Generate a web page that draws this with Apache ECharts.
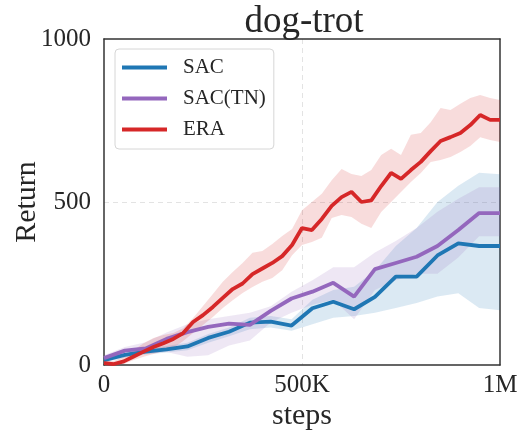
<!DOCTYPE html>
<html>
<head>
<meta charset="utf-8">
<script src="https://cdn.jsdelivr.net/npm/echarts@6/dist/echarts.min.js"></script>
<style>
  html, body { margin: 0; padding: 0; background: #fff; }
  #chart { width: 520px; height: 432px; }
</style>
</head>
<body>
<div id="chart"></div>
<script>
// Training steps at which each method was evaluated
const eraSteps = [0, 25000, 50000, 75000, 100000, 125000, 150000, 175000, 200000, 225000,
  250000, 275000, 300000, 325000, 350000, 375000, 400000, 425000, 450000, 475000,
  500000, 525000, 550000, 575000, 600000, 625000, 650000, 675000, 700000, 725000,
  750000, 775000, 800000, 825000, 850000, 875000, 900000, 925000, 950000, 975000, 1000000];
const sacSteps = [0, 52632, 105263, 157895, 210526, 263158, 315789, 368421, 421053, 473684,
  526316, 578947, 631579, 684211, 736842, 789474, 842105, 894737, 947368, 1000000];

// Mean returns
const eraMean = [6, 3, 11, 26, 41, 55, 67, 80, 98, 132,
  153, 178, 206, 233, 250, 279, 296, 313, 334, 368,
  420, 414, 448, 488, 515, 531, 500, 505, 549, 589,
  571, 598, 623, 656, 687, 699, 712, 736, 767, 752, 752];
const sacMean = [15, 31, 41, 48, 57, 83, 102, 130, 133, 121,
  174, 194, 171, 209, 271, 271, 336, 373, 365, 365];
const tnMean = [21, 44, 51, 80, 101, 117, 127, 123, 166, 204,
  225, 252, 210, 294, 313, 332, 365, 414, 466, 466];

// Shaded spread around each mean (lower / upper bounds)
const eraLow = [0, 0, 3, 15, 25, 34, 43, 52, 74, 98,
  123, 147, 175, 199, 221, 239, 255, 267, 291, 337,
  368, 377, 390, 451, 460, 454, 433, 420, 469, 500,
  531, 561, 589, 623, 629, 638, 653, 672, 699, 690, 684];
const eraHigh = [12, 12, 25, 46, 67, 83, 92, 98, 113, 144,
  181, 218, 255, 285, 313, 344, 350, 371, 396, 417,
  475, 500, 525, 567, 601, 586, 580, 598, 644, 663,
  644, 706, 712, 745, 788, 782, 801, 819, 828, 819, 813];
const sacLow = [8, 22, 32, 38, 45, 68, 88, 110, 115, 105,
  125, 145, 150, 160, 175, 190, 210, 220, 175, 168];
const sacHigh = [20, 38, 50, 58, 68, 95, 115, 145, 150, 140,
  200, 230, 240, 290, 365, 420, 500, 550, 590, 585];
const tnLow = [12, 35, 35, 40, 25, 30, 60, 75, 130, 160,
  185, 200, 140, 230, 260, 280, 280, 330, 395, 395];
const tnHigh = [30, 55, 70, 100, 125, 140, 150, 160, 180, 225,
  260, 300, 300, 345, 380, 420, 470, 510, 545, 545];

// Axis tick labels
const xTickLabels = ['0', '500K', '1M'];
const yTicks = [0, 500, 1000];

const FONT = 'Liberation Serif';
const TEXT = '#262626';
const FRAME = { show: true, onZero: false, lineStyle: { color: '#333', width: 1.5 } };
const GRIDLINE = {
  show: true, showMinLine: false, showMaxLine: false,
  lineStyle: { color: '#e3e3e3', type: [5, 4], width: 1 }
};

function pairs(xs, ys) { return xs.map((x, i) => [x, ys[i]]); }

// One filled polygon per method: upper edge left→right, lower edge right→left
function bandSeries(xs, lo, hi, rgba) {
  return {
    type: 'custom', silent: true, z: 1,
    data: xs.map((x, i) => [x, lo[i], hi[i]]),
    encode: { x: 0, y: [1, 2] },
    renderItem: function (params, api) {
      if (params.dataIndex !== 0) return null;
      const pts = [];
      for (let i = 0; i < xs.length; i++) pts.push(api.coord([xs[i], hi[i]]));
      for (let i = xs.length - 1; i >= 0; i--) pts.push(api.coord([xs[i], lo[i]]));
      return {
        type: 'polygon',
        shape: { points: pts },
        style: { fill: rgba, stroke: null },
        clipPath: {
          type: 'rect',
          shape: {
            x: params.coordSys.x, y: params.coordSys.y,
            width: params.coordSys.width, height: params.coordSys.height
          }
        }
      };
    }
  };
}

function meanSeries(name, xs, ys, color) {
  return {
    name: name, type: 'line', data: pairs(xs, ys), symbol: 'none',
    lineStyle: { color: color, width: 3.8 }, itemStyle: { color: color }, z: 5
  };
}

const chart = echarts.init(document.getElementById('chart'), null, { renderer: 'canvas' });

chart.setOption({
  animation: false,
  backgroundColor: '#fff',
  title: {
    text: 'dog-trot', left: 299, top: -1, textAlign: 'center',
    textStyle: { fontFamily: FONT, fontSize: 37, fontWeight: 'normal', color: TEXT }
  },
  grid: { left: 104, right: 20, top: 39, bottom: 67, outerBoundsMode: 'none' },
  legend: {
    data: ['SAC', 'SAC(TN)', 'ERA'],
    orient: 'vertical', left: 115, top: 49,
    icon: 'rect', itemWidth: 45, itemHeight: 4, itemGap: 10,
    padding: [8, 8, 9, 7],
    backgroundColor: '#fff', borderColor: '#d6d6d6', borderWidth: 1, borderRadius: 4,
    textStyle: { fontFamily: FONT, fontSize: 21, color: TEXT, padding: [0, 0, 0, 11] }
  },
  xAxis: [
    {
      type: 'value', min: 0, max: 1000000, interval: 500000,
      name: 'steps', nameLocation: 'middle', nameGap: 36, nameMoveOverlap: false,
      nameTextStyle: { fontFamily: FONT, fontSize: 30, color: TEXT },
      axisLine: FRAME, axisTick: { show: false },
      axisLabel: {
        fontFamily: FONT, fontSize: 25, color: TEXT, margin: 12, lineHeight: 16,
        formatter: v => xTickLabels[Math.round(v / 500000)]
      },
      splitLine: GRIDLINE
    },
    {
      type: 'value', position: 'top', min: 0, max: 1000000,
      axisLine: FRAME, axisTick: { show: false }, axisLabel: { show: false },
      splitLine: { show: false }
    }
  ],
  yAxis: [
    {
      type: 'value', min: 0, max: 1000, interval: 500,
      name: 'Return', nameLocation: 'middle', nameGap: 62, nameMoveOverlap: false,
      nameTextStyle: { fontFamily: FONT, fontSize: 30, color: TEXT },
      axisLine: FRAME, axisTick: { show: false },
      axisLabel: {
        fontFamily: FONT, fontSize: 25, color: TEXT, margin: 13, lineHeight: 16,
        formatter: v => String(yTicks[Math.round(v / 500)])
      },
      splitLine: GRIDLINE
    },
    {
      type: 'value', position: 'right', min: 0, max: 1000,
      axisLine: FRAME, axisTick: { show: false }, axisLabel: { show: false },
      splitLine: { show: false }
    }
  ],
  series: [
    bandSeries(sacSteps, sacLow, sacHigh, 'rgba(31,119,180,0.16)'),
    bandSeries(sacSteps, tnLow, tnHigh, 'rgba(148,103,189,0.16)'),
    bandSeries(eraSteps, eraLow, eraHigh, 'rgba(214,39,40,0.16)'),
    meanSeries('SAC', sacSteps, sacMean, '#1f77b4'),
    meanSeries('SAC(TN)', sacSteps, tnMean, '#9467bd'),
    meanSeries('ERA', eraSteps, eraMean, '#d62728')
  ]
});
</script>
</body>
</html>
